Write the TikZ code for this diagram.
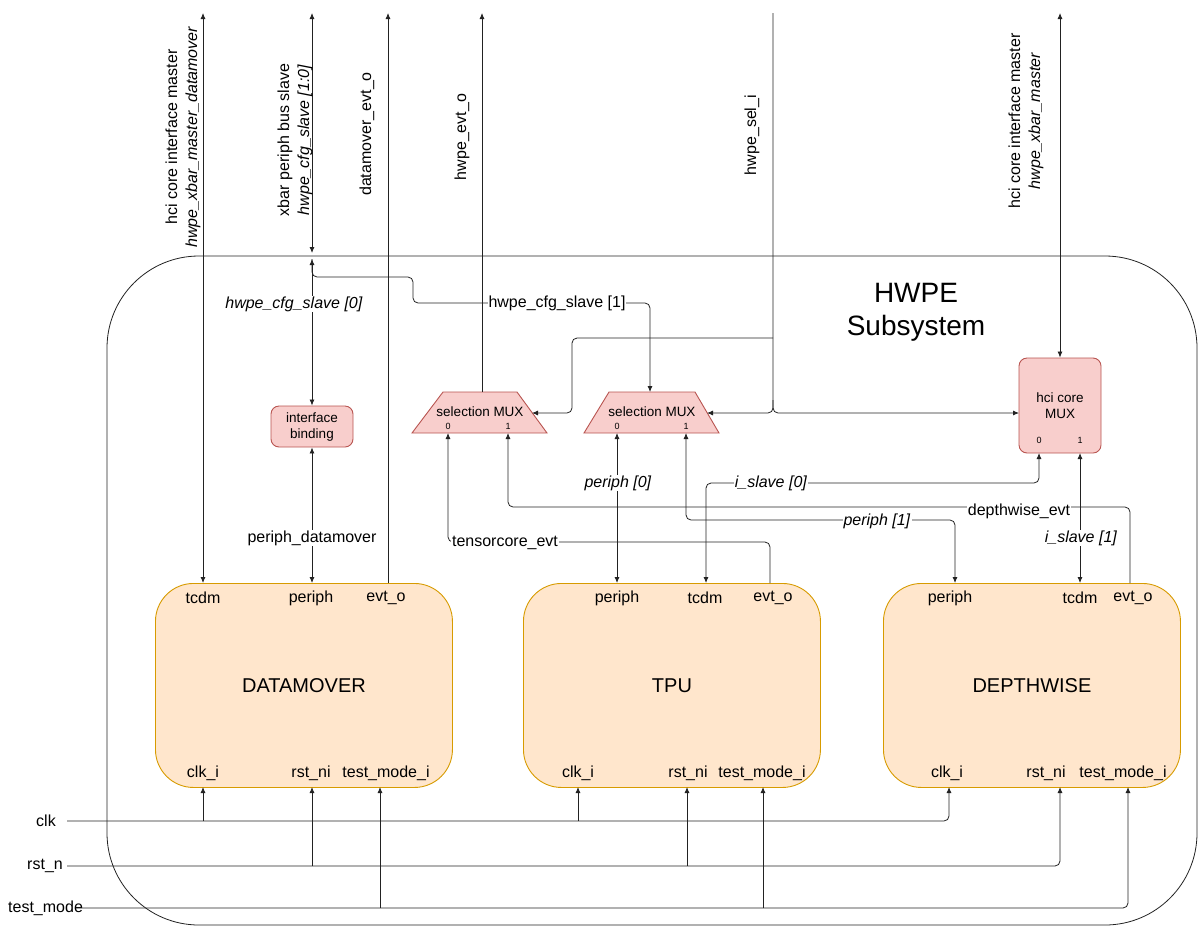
\documentclass[tikz,border=0pt]{standalone}
\usepackage{fontspec}
\setmainfont{Liberation Sans}
\usetikzlibrary{arrows.meta,calc}
\definecolor{peachF}{HTML}{FFE6CC}
\definecolor{peachD}{HTML}{D79B00}
\definecolor{pinkF}{HTML}{F8CECC}
\definecolor{pinkD}{HTML}{B85450}
\definecolor{ln}{HTML}{222222}
\begin{document}
\begin{tikzpicture}[x=1pt,y=-1pt,
  >={Latex[length=6pt,width=5pt]},
  wire/.style={draw=ln, line width=0.8pt, rounded corners=5},
  lbl/.style={font=\fontsize{16}{20}\selectfont, inner sep=1pt, text=black},
  elbl/.style={lbl, fill=white},
  big/.style={font=\fontsize{20}{24}\selectfont, inner sep=0pt},
  huge/.style={font=\fontsize{28}{33}\selectfont, align=center, inner sep=0pt},
  small/.style={font=\fontsize{13.5}{16}\selectfont, align=center, inner sep=0pt},
  tiny/.style={font=\fontsize{9}{10}\selectfont, inner sep=0pt},
  blk/.style={draw=peachD, fill=peachF, line width=0.9pt, rounded corners=38,
    minimum width=297pt, minimum height=204pt, anchor=north west, inner sep=0pt},
  pinkbox/.style={draw=pinkD, fill=pinkF, line width=0.9pt, rounded corners=8,
    small, inner sep=0pt},
  vlbl/.style={lbl, rotate=90, align=center}]
\useasboundingbox (0,0) rectangle (1198,927);

% outer subsystem box
\draw[ln, line width=0.8pt, rounded corners=92] (107,256) rectangle (1197,925);
\node[huge] (title) at (916,312) {HWPE\\Subsystem};

% main blocks
\node[blk] (dm) at (155,583) {};
\node[blk] (tpu) at (523,583) {};
\node[blk] (dw) at (883,583) {};
\node[big] at (dm.center) {DATAMOVER};
\node[big] at (tpu.center) {TPU};
\node[big] at (dw.center) {DEPTHWISE};

% port labels
\node[lbl] (dmtcdm) at (203,598) {tcdm};
\node[lbl] (dmper) at (311,598) {periph};
\node[lbl] (dmevt) at (386,598) {evt\_o};
\node[lbl] (tpuper) at (617,598) {periph};
\node[lbl] (tputcdm) at (705,598) {tcdm};
\node[lbl] (tpuevt) at (773,598) {evt\_o};
\node[lbl] (dwper) at (950,598) {periph};
\node[lbl] (dwtcdm) at (1080,598) {tcdm};
\node[lbl] (dwevt) at (1133,598) {evt\_o};
\node[lbl] (dmclk) at (203,773) {clk\_i};
\node[lbl] (dmrst) at (311,773) {rst\_ni};
\node[lbl] (dmtm) at (386,773) {test\_mode\_i};
\node[lbl] (tpuclk) at (578,773) {clk\_i};
\node[lbl] (tpurst) at (688,773) {rst\_ni};
\node[lbl] (tputm) at (762,773) {test\_mode\_i};
\node[lbl] (dwclk) at (947,773) {clk\_i};
\node[lbl] (dwrst) at (1046,773) {rst\_ni};
\node[lbl] (dwtm) at (1123,773) {test\_mode\_i};

% pink boxes
\node[pinkbox, minimum width=82pt, minimum height=41pt] (ib) at (312,426.5) {interface\\binding};
\node[pinkbox, minimum width=82pt, minimum height=95pt] (hci) at (1060,405.5) {hci core\\MUX};
\node[tiny] at (1039,440) {0};
\node[tiny] at (1080,440) {1};

% selection muxes
\draw[draw=pinkD, fill=pinkF, line width=0.9pt] (412,433) -- (443,392) -- (517,392) -- (547,433) -- cycle;
\draw[draw=pinkD, fill=pinkF, line width=0.9pt] (584,433) -- (609,392) -- (695,392) -- (719,433) -- cycle;
\node[small] (mux1) at (480,412) {selection MUX};
\node[small] (mux2) at (652,412) {selection MUX};
\node[tiny] at (448,426) {0};
\node[tiny] at (508,426) {1};
\node[tiny] at (617,426) {0};
\node[tiny] at (686,426) {1};

% named points
\coordinate (t1) at (203,13);
\coordinate (t2) at (312,13);
\coordinate (t3) at (388,13);
\coordinate (t4) at (482,13);
\coordinate (t5) at (773,13);
\coordinate (t6) at (1060,13);
\coordinate (cfgA) at (312,253);
\coordinate (cfgB) at (312,259);
\coordinate (m1top) at (482,392);
\coordinate (m2top) at (650,392);
\coordinate (m1R) at (532,413);
\coordinate (m2R) at (707,413);
\coordinate (m1in0) at (448,433);
\coordinate (m1in1) at (508,433);
\coordinate (m2in0) at (617,433);
\coordinate (m2in1) at (686,433);
\coordinate (hciL) at (1019,413);
\coordinate (hci0) at (1039,453);
\coordinate (hci1) at (1080,453);
\coordinate (selsplit) at (773,338);
\coordinate (selB) at (773,400);
\coordinate (clkin) at (67,821);
\coordinate (rstin) at (67,866);
\coordinate (tmin) at (76,908);

% top interface lines
\draw[wire,<->] (t1) -- (t1 |- dm.north);
\draw[wire,<->] (t2) -- (cfgA);
\draw[wire,<->] (cfgB) -- (ib.north);
\draw[wire,->] (cfgB) |- (413,277) |- (650,303) -- (m2top);
\draw[wire,->] (t3 |- dm.north) -- (t3);
\draw[wire,->] (m1top) -- (t4);
\draw[wire,->] (t5) |- (m2R);
\draw[wire,->] (selsplit) -| (572,413) -- (m1R);
\draw[wire,->] (selB) |- (hciL);
\draw[wire,<->] (t6) -- (hci.north);

\node[elbl] at (294,304) {\textit{hwpe\_cfg\_slave [0]}};
\node[elbl] at (557,303) {hwpe\_cfg\_slave [1]};

% top rotated labels
\node[vlbl] at (183,137) {hci core interface master\\\textit{hwpe\_xbar\_master\_datamover}};
\node[vlbl] at (295,140) {xbar periph bus slave\\\textit{hwpe\_cfg\_slave [1:0]}};
\node[vlbl] at (367,134) {datamover\_evt\_o};
\node[vlbl] at (462,137) {hwpe\_evt\_o};
\node[vlbl] at (752,135) {hwpe\_sel\_i};
\node[vlbl] at (1026,121) {hci core interface master\\\textit{hwpe\_xbar\_master}};

% internal connections
\draw[wire,<->] (ib.south) -- (ib.south |- dm.north);
\node[elbl] at (312,538) {periph\_datamover};

\draw[wire,->] (770,583) |- (448,542) -- (m1in0);
\node[elbl] at (505,543) {tensorcore\_evt};

\draw[wire,->] (1130,583) |- (508,507) -- (m1in1);
\node[elbl] at (1019,511) {depthwise\_evt};

\draw[wire,<->] (m2in0) -- (m2in0 |- tpu.north);
\node[elbl] at (618,483) {\textit{periph [0]}};

\draw[wire,<->] (m2in1) |- (955,520) -- (955,583);
\node[elbl] at (877,521) {\textit{periph [1]}};

\draw[wire,<->] (706,583) |- (1039,483) -- (hci0);
\node[elbl] at (771,483) {\textit{i\_slave [0]}};

\draw[wire,<->] (hci1) -- (hci1 |- dw.north);
\node[elbl] at (1081,538) {\textit{i\_slave [1]}};

% clock / reset / test mode
\node[lbl, anchor=east] at (57,821) {clk};
\node[lbl, anchor=east] at (64,866) {rst\_n};
\node[lbl, anchor=west] at (7,908) {test\_mode};
\draw[wire,->] (clkin) -| (949,787);
\draw[wire,->] (203,821) -- (203,787);
\draw[wire,->] (578,821) -- (578,787);
\draw[wire,->] (rstin) -| (1060,787);
\draw[wire,->] (312,866) -- (312,787);
\draw[wire,->] (687,866) -- (687,787);
\draw[wire,->] (tmin) -| (1128,787);
\draw[wire,->] (380,908) -- (380,787);
\draw[wire,->] (763,908) -- (763,787);
\end{tikzpicture}
\end{document}
